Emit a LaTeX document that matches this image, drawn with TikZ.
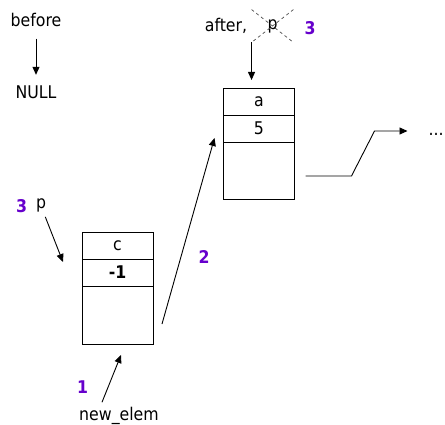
\documentclass[tikz,border=0pt]{standalone}
\usepackage{fontspec}
\setmainfont{DejaVu Sans Condensed}
\usetikzlibrary{arrows.meta,positioning}
\definecolor{stepcol}{RGB}{102,0,204}
\tikzset{
  lbl/.style={inner sep=1pt, anchor=base},
  num/.style={lbl, text=stepcol, execute at begin node=\bfseries},
  cell/.style={draw, minimum width=71pt, minimum height=27pt, inner sep=0pt, outer sep=0pt, anchor=north},
  tail/.style={cell, minimum height=57pt},
  ptr/.style={-{Triangle[length=8pt,width=7pt]}}
}
\begin{document}
\begin{tikzpicture}[x=1pt,y=-1pt,line width=0.9pt,font=\fontsize{17.5}{20}\selectfont]
\useasboundingbox (0,0) rectangle (445,425);

\node[lbl] (before) at (36,27) {before};
\node[lbl] (null) at (36,99) {NULL};
\draw[ptr,shorten <=10pt,shorten >=10pt] (before) -- (null);

\node[lbl] (after) at (226,32) {after,};
\node[inner sep=0pt,minimum width=41pt,minimum height=32pt] (gone) at (272.5,26) {p};
\draw[dashed,dash pattern=on 3pt off 3pt,line width=0.7pt,black!70]
  (gone.north west) -- (gone.south east) (gone.north east) -- (gone.south west);
\node[num] (n3top) at (310,35) {3};

\node[cell] (a1) at (259,88) {a};
\node[cell,below=0pt of a1] (a2) {5};
\node[tail,below=0pt of a2] (a3) {};
\draw[ptr] (gone.south west) -- ([yshift=8pt]gone.south west |- a1.north);

\node[lbl] (dots) at (436,136) {...};
\draw[ptr] ([xshift=11pt,yshift=-5.5pt]a3.east) -- ++(46,0) -- ++(23,-45) -- ++(33,0);

\node[cell] (c1) at (117.5,232) {c};
\node[cell,below=0pt of c1] (c2) {\textbf{-1}};
\node[tail,minimum height=58pt,below=0pt of c2] (c3) {};

\node[num] (n3left) at (21.5,213) {3};
\node[lbl] (p) at (41,209) {p};
\draw[ptr,shorten <=3pt] (p) -- ([xshift=-19pt,yshift=-3pt]c1.south west);

\node[num] (n2) at (204,263) {2};
\draw[ptr] ([xshift=9pt,yshift=-9pt]c3.east) -- ([xshift=-9pt,yshift=4pt]a3.north west);

\node[num] (n1) at (82.5,393) {1};
\node[lbl] (newelem) at (119,420) {new\_elem};
\draw[ptr] ([xshift=-17pt,yshift=3pt]newelem.north) -- ([xshift=3.5pt,yshift=-11pt]c3.south);
\end{tikzpicture}
\end{document}
